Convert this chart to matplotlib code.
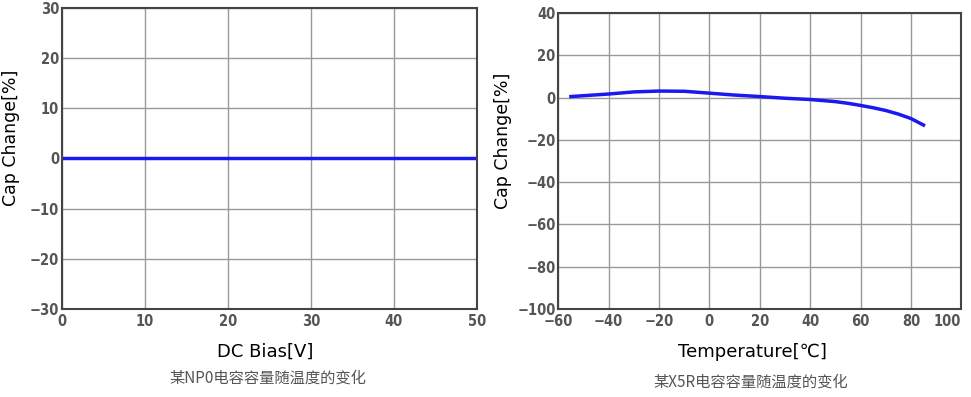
import numpy as np
import matplotlib.pyplot as plt

plt.rcParams['font.family'] = ['DejaVu Sans', 'Noto Sans CJK SC']

# NP0: capacitance change vs DC bias (flat)
bias_v = [0, 10, 20, 30, 40, 50]
np0_change = [0, 0, 0, 0, 0, 0]

# X5R: capacitance change vs temperature
temp_c = [-55, -50, -45, -40, -30, -20, -10, 0, 10, 20, 30, 40, 50, 55, 60, 65, 70, 75, 80, 85]
x5r_change = [0.5, 0.9, 1.3, 1.7, 2.7, 3.1, 3.0, 2.1, 1.2, 0.5, -0.3, -0.9, -1.9, -2.7, -3.7, -4.8, -6.1, -7.8, -9.9, -13.0]

left_xticks = [0, 10, 20, 30, 40, 50]
left_yticks = [-30, -20, -10, 0, 10, 20, 30]
right_xticks = [-60, -40, -20, 0, 20, 40, 60, 80, 100]
right_yticks = [-100, -80, -60, -40, -20, 0, 20, 40]

tick_font = {'family': 'DejaVu Sans', 'stretch': 'condensed', 'size': 10.5,
             'weight': 'bold', 'color': '#555555'}


def style_axes(ax, xticks, yticks):
    ax.set_xlim(xticks[0], xticks[-1])
    ax.set_ylim(yticks[0], yticks[-1])
    ax.set_xticks(xticks)
    ax.set_yticks(yticks)
    ax.set_xticklabels([str(t).replace('-', '\u2212') for t in xticks], **tick_font)
    ax.set_yticklabels([str(t).replace('-', '\u2212') for t in yticks], **tick_font)
    ax.tick_params(length=0, pad=2)
    ax.tick_params(axis='x', pad=4)
    ax.grid(True, color='#999999', linewidth=1.0)
    ax.set_axisbelow(True)
    for s in ax.spines.values():
        s.set_color('#444444')
        s.set_linewidth(1.5)


fig = plt.figure(figsize=(9.71, 3.97), dpi=100)

ax1 = fig.add_axes([0.0638, 0.222, 0.4272, 0.758])
ax1.plot(bias_v, np0_change, color='#1a1aee', linewidth=2.5)
style_axes(ax1, left_xticks, left_yticks)
ax1.set_ylabel('Cap Change[%]', fontsize=12.5)
ax1.yaxis.set_label_coords(-0.101, 0.568)

ax2 = fig.add_axes([0.575, 0.222, 0.415, 0.745])
ax2.plot(temp_c, x5r_change, color='#1a1aee', linewidth=2.5)
style_axes(ax2, right_xticks, right_yticks)
ax2.set_ylabel('Cap Change[%]', fontsize=12.5)
ax2.yaxis.set_label_coords(-0.114, 0.568)
# keep the last x label inside the figure, as in the reference
ax2.get_xticklabels()[-1].set_horizontalalignment('right')
ax2.get_xticklabels()[-1].set_x(100)

fig.text(0.273, 0.113, 'DC Bias[V]', fontsize=13, ha='center', va='center')
fig.text(0.276, 0.048, '某NP0电容容量随温度的变化', fontsize=11, ha='center', va='center',
         color='#555555', family=['Noto Sans CJK SC', 'DejaVu Sans'])
fig.text(0.775, 0.113, 'Temperature[℃]', fontsize=13, ha='center', va='center',
         family=['DejaVu Sans', 'Noto Sans CJK SC'])
fig.text(0.773, 0.038, '某X5R电容容量随温度的变化', fontsize=11, ha='center', va='center',
         color='#555555', family=['Noto Sans CJK SC', 'DejaVu Sans'])

fig.savefig('out.png', dpi=100)
